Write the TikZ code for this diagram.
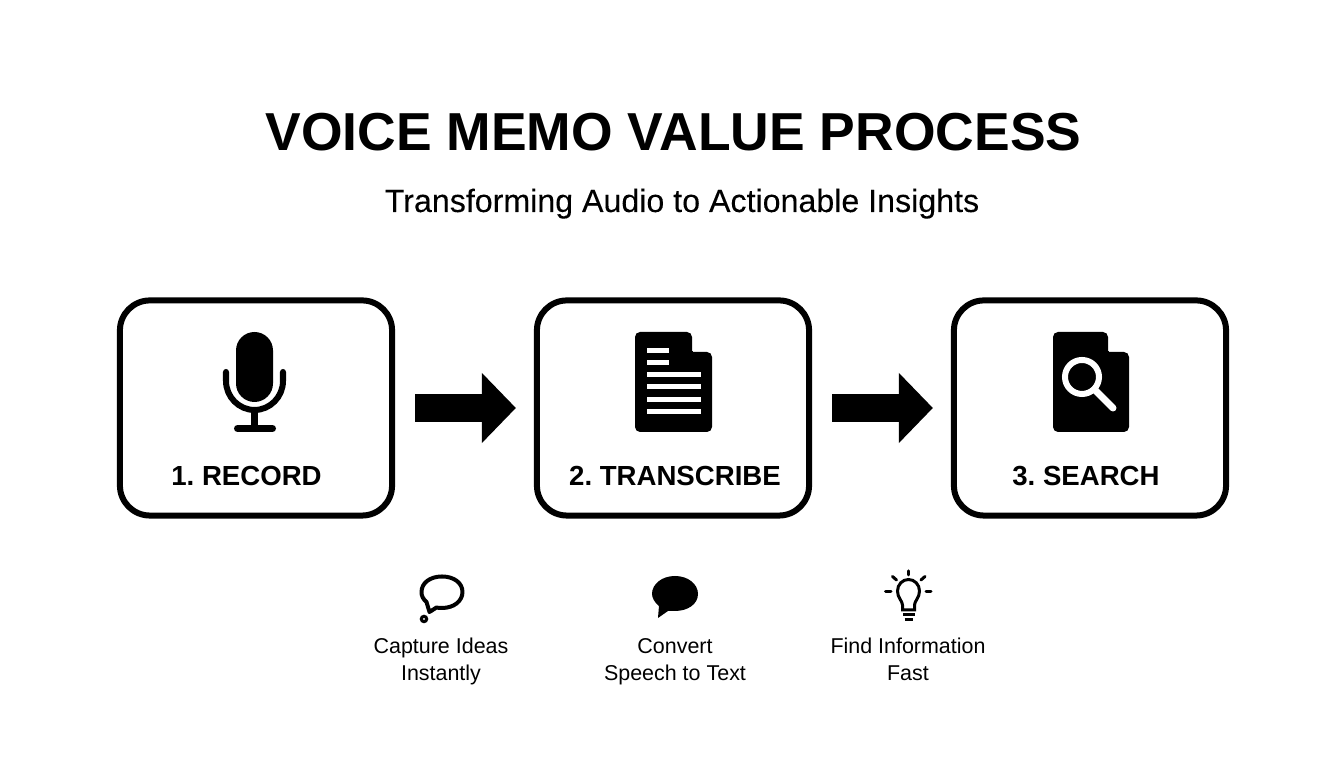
\documentclass[tikz,border=0pt]{standalone}
\usepackage{fontspec}
\setmainfont{Liberation Sans}
\newfontfamily\mediumfont[FakeBold=0.12]{Liberation Sans}
\usetikzlibrary{arrows.meta}

\tikzset{
    stepbox/.style={draw=black, line width=0.06cm, rounded corners=0.3cm, minimum width=2.72cm, minimum height=2.15cm},
    flowarrow/.style={-{Triangle[length=0.34cm, width=0.68cm]}, line width=0.28cm, shorten <=20*0.01cm, shorten >=18*0.01cm},
    maintitle/.style={anchor=base, inner sep=0pt, font=\fontsize{15.2}{18}\selectfont\bfseries},
    subtitle/.style={anchor=base, inner sep=0pt, font=\fontsize{9.15}{11}\selectfont\mediumfont},
    steplabel/.style={anchor=base, inner sep=0pt, font=\fontsize{7.85}{10}\selectfont\bfseries\frenchspacing},
    caption/.style={anchor=base, inner sep=0pt, align=center, font=\fontsize{6.1}{7.68}\selectfont},
    iconline/.style={line width=0.03cm, line cap=round}
}

\begin{document}
\begin{tikzpicture}[x=0.01cm, y=-0.01cm]
    \useasboundingbox (0,0) rectangle (1344,768);
    \fill[white] (0,0) rectangle (1344,768);

    \node[maintitle] (title) at (673.5,151) {VOICE MEMO VALUE PROCESS};
    \node[subtitle] (sub) at (682,212) {Transforming Audio to Actionable Insights};

    % boxes
    \node[stepbox] (record) at (256,408) {};
    \node[stepbox] (transcribe) at (673,408) {};
    \node[stepbox] (search) at (1090,408) {};

    \draw[flowarrow] (record) -- (transcribe);
    \draw[flowarrow] (transcribe) -- (search);

    \node[steplabel] (recordtext) at (246.5,486) {1. RECORD};
    \node[steplabel] (transcribetext) at (675,486) {2. TRANSCRIBE};
    \node[steplabel] (searchtext) at (1086,486) {3. SEARCH};

    % microphone
    \fill[rounded corners=0.185cm] (236,332) rectangle (273,402);
    \draw[line width=0.06cm, line cap=round] (226,372) -- (226,381) .. controls (226,397) and (239,410) .. (254.5,410) .. controls (270,410) and (283,397) .. (283,381) -- (283,372);
    \draw[line width=0.06cm] (254.5,410) -- (254.5,428);
    \draw[line width=0.07cm, line cap=round] (237.5,428.5) -- (272.5,428.5);

    % document
    \fill[rounded corners=0.05cm] (635,332) -- (692,332) -- (692,346) .. controls (692,350) and (694,352) .. (698,352) -- (712,352) -- (712,432) -- (635,432) -- cycle;
    \fill[white] (647,348) rectangle (669,353);
    \fill[white] (647,360) rectangle (669,365);
    \fill[white] (647,372) rectangle (701,377);
    \fill[white] (647,384) rectangle (701,389);
    \fill[white] (647,397) rectangle (701,402);
    \fill[white] (647,409) rectangle (701,414);

    % document with lens
    \fill[rounded corners=0.05cm] (1053,332) -- (1108,332) -- (1108,346) .. controls (1108,350) and (1110,352) .. (1114,352) -- (1129,352) -- (1129,432) -- (1053,432) -- cycle;
    \draw[white, line width=0.06cm] (1082,377) circle[radius=0.17cm];
    \draw[white, line width=0.07cm, line cap=round] (1096,391) -- (1113,408);

    % bubbles
    \draw[line width=0.04cm, line join=round] (426.5,602) .. controls (423,599) and (421.5,596) .. (421.5,592) .. controls (421.5,583) and (430,576.5) .. (442,576.5) .. controls (454,576.5) and (462.5,583) .. (462.5,592) .. controls (462.5,601) and (454,608) .. (442,608) .. controls (440,608) and (438,608) .. (436.5,607.5) -- (429.5,612) -- cycle;
    \draw[line width=0.03cm] (424,619) circle[radius=0.027cm];
    \fill (659,606) .. controls (655,603) and (652,598) .. (652,594) .. controls (652,584) and (662,576) .. (675,576) .. controls (688,576) and (698,584) .. (698,594) .. controls (698,604) and (688,611) .. (675,611) .. controls (672,611) and (670,611) .. (668,611) -- (658,618) -- cycle;

    % bulb
    \draw[iconline, line cap=butt] (902.5,610) -- (902.5,605) .. controls (902.5,601) and (897.5,598) .. (897.5,591) .. controls (897.5,584.5) and (902.5,579.5) .. (908.5,579.5) .. controls (914.5,579.5) and (919.5,584.5) .. (919.5,591) .. controls (919.5,598) and (914.5,601) .. (914.5,605) -- (914.5,610) -- cycle;
    \draw[iconline, line cap=butt] (903,615) -- (915,615);
    \draw[iconline, line cap=butt] (904.5,619.5) -- (913,619.5);
    \draw[iconline] (908,571) -- (908,575);
    \draw[iconline] (892.5,576.5) -- (896.5,580);
    \draw[iconline] (925,576.5) -- (921,580);
    \draw[iconline] (885.5,592) -- (891,592);
    \draw[iconline] (926,592) -- (931,592);

    \node[caption] (capture) at (441,681) {Capture Ideas\\Instantly};
    \node[caption] (convert) at (675,681) {Convert\\Speech to Text};
    \node[caption] (find) at (908,681) {Find Information\\Fast};
\end{tikzpicture}
\end{document}
